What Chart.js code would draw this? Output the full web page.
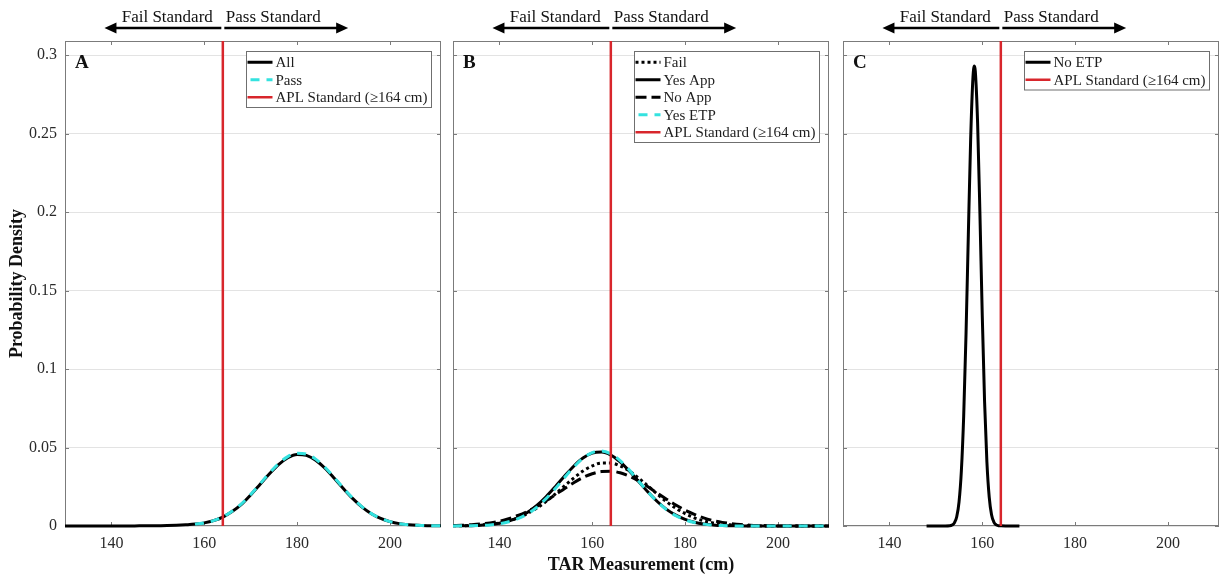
<!DOCTYPE html>
<html>
<head>
<meta charset="utf-8">
<title>TAR Measurement probability densities</title>
<script src="https://cdn.jsdelivr.net/npm/chart.js@4.4.1/dist/chart.umd.min.js"></script>
<style>
  html, body { margin: 0; padding: 0; background: #fff; }
  body { width: 1224px; height: 577px; position: relative; overflow: hidden; }
  canvas { position: absolute; top: 0; }
</style>
</head>
<body>
<canvas id="panelA" width="445" height="577" style="left:0px"></canvas>
<canvas id="panelB" width="384" height="577" style="left:449px"></canvas>
<canvas id="panelC" width="385" height="577" style="left:839px"></canvas>
<script>
// ---- data -----------------------------------------------------------------
// TAR sample positions (cm) shared by panels A and B
const tarGrid = [130, 132, 134, 136, 138, 140, 142, 144, 146, 148, 150, 152, 154, 156, 158, 160,
  162, 164, 166, 168, 170, 172, 174, 176, 178, 180, 182, 184, 186, 188, 190, 192, 194, 196,
  198, 200, 202, 204, 206, 208, 210, 211];

// Panel A densities
const allDensity = [0, 0, 0, 0, 0, 0, 0, 0, 0.0001, 0.0001, 0.0002, 0.0003, 0.0005, 0.0008, 0.0012, 0.0020,
  0.0034, 0.0057, 0.0092, 0.0138, 0.0198, 0.0264, 0.0331, 0.0391, 0.0435, 0.0456, 0.0450, 0.0419, 0.0368, 0.0304,
  0.0237, 0.0174, 0.0120, 0.0078, 0.0048, 0.0028, 0.0015, 0.0008, 0.0004, 0.0002, 0.0001, 0.0001];
const passDensity = [null, null, null, null, null, null, null, null, null, null, null, null, null, null, 0.0012, 0.0020,
  0.0034, 0.0058, 0.0094, 0.0141, 0.0201, 0.0268, 0.0336, 0.0397, 0.0442, 0.0464, 0.0458, 0.0426, 0.0374, 0.0309,
  0.0241, 0.0177, 0.0122, 0.0079, 0.0049, 0.0028, 0.0015, 0.0008, 0.0004, 0.0002, 0.0001, 0.0001];

// Panel B densities
const failDensity = [0.0001, 0.0002, 0.0003, 0.0007, 0.0012, 0.0020, 0.0033, 0.0052, 0.0079, 0.0113, 0.0155, 0.0203,
  0.0255, 0.0305, 0.0350, 0.0383, 0.0401, 0.0401, 0.0383, 0.0350, 0.0305, 0.0255, 0.0203, 0.0155, 0.0113, 0.0079,
  0.0052, 0.0033, 0.0020, 0.0012, 0.0007, 0.0003, 0.0002, 0.0001, 0, 0, 0, 0, 0, 0, 0, 0];
const yesAppDensity = [0.0001, 0.0001, 0.0002, 0.0005, 0.0009, 0.0018, 0.0032, 0.0054, 0.0086, 0.0130, 0.0185, 0.0249,
  0.0317, 0.0381, 0.0433, 0.0464, 0.0471, 0.0452, 0.0409, 0.0350, 0.0283, 0.0216, 0.0156, 0.0106, 0.0069, 0.0042,
  0.0024, 0.0013, 0.0007, 0.0003, 0.0002, 0.0001, 0, 0, 0, 0, 0, 0, 0, 0, 0, 0];
const noAppDensity = [0.0003, 0.0004, 0.0008, 0.0013, 0.0020, 0.0031, 0.0047, 0.0067, 0.0092, 0.0124, 0.0159, 0.0198,
  0.0238, 0.0276, 0.0309, 0.0333, 0.0347, 0.0349, 0.0339, 0.0317, 0.0287, 0.0250, 0.0210, 0.0171, 0.0134, 0.0101,
  0.0074, 0.0052, 0.0035, 0.0023, 0.0015, 0.0009, 0.0005, 0.0003, 0.0002, 0.0001, 0, 0, 0, 0, 0, 0];
const yesEtpDensity = [0, 0.0001, 0.0002, 0.0004, 0.0007, 0.0014, 0.0027, 0.0047, 0.0076, 0.0118, 0.0173, 0.0237,
  0.0308, 0.0375, 0.0432, 0.0468, 0.0478, 0.0460, 0.0417, 0.0356, 0.0286, 0.0217, 0.0155, 0.0104, 0.0066, 0.0040,
  0.0022, 0.0012, 0.0006, 0.0003, 0.0001, 0, 0, 0, 0, 0, 0, 0, 0, 0, 0, 0];

// Panel C: narrow No ETP density on its own sample positions
const noEtpX = [148, 150, 152, 153, 153.5, 154, 154.5, 155, 155.5, 156, 156.5, 157, 157.5, 158, 158.3,
  158.5, 159, 159.5, 160, 160.5, 161, 161.5, 162, 162.5, 163, 163.5, 164, 165, 166, 168];
const noEtpDensity = [0, 0, 0, 0.0001, 0.0006, 0.0020, 0.0059, 0.0154, 0.0352, 0.0701, 0.1220, 0.1855, 0.2464,
  0.2860, 0.2930, 0.2898, 0.2567, 0.1986, 0.1342, 0.0792, 0.0408, 0.0184, 0.0072, 0.0025, 0.0007, 0.0002, 0.0001,
  0, 0, 0];

// Standard threshold and the annotation arrows above each panel
const aplStandard = 164;
const failArrowEnd = 138.5;
const passArrowEnd = 191;
const standardLabels = ['Fail Standard', 'Pass Standard'];

// Axes
const xMin = 130, xMax = 211, yMax = 0.309;
const xTickValues = [140, 160, 180, 200];
const yTickValues = [0, 0.05, 0.1, 0.15, 0.2, 0.25, 0.3];
const yTickLabels = ['0', '0.05', '0.1', '0.15', '0.2', '0.25', '0.3'];
const panelLetters = ['A', 'B', 'C'];

// ---- styling ----------------------------------------------------------------
const SERIF = '"Liberation Serif", "Times New Roman", Times, serif';
const AXIS_GREY = '#7b7b7b';
const GRID_GREY = '#e3e3e3';
const RED = '#d8262c';
const CYAN = '#34e2df';

function pairs(xs, ys) { return xs.map((x, i) => ({ x: x, y: ys[i] })); }

function curve(label, xs, ys, extra) {
  return Object.assign({
    label: label,
    data: pairs(xs, ys),
    borderColor: '#000',
    borderWidth: 3,
    pointRadius: 0,
    fill: false,
    clip: false,
    spanGaps: false,
    cubicInterpolationMode: 'monotone'
  }, extra);
}

function standardLine() {
  return {
    label: 'APL Standard (\u2265164 cm)',
    data: [{ x: aplStandard, y: 0 }, { x: aplStandard, y: yMax }],
    borderColor: RED,
    borderWidth: 2.5,
    pointRadius: 0,
    fill: false,
    clip: false,
    order: 0
  };
}

// Boxed legend in the upper right corner of the plot area
const insetLegend = {
  id: 'insetLegend',
  afterDatasetsDraw(chart) {
    const { ctx, chartArea } = chart;
    const sets = chart.data.datasets;
    const w = 185, rowH = 17.5, h = sets.length * rowH + 3.5;
    const x0 = Math.round(chartArea.right - 10 - w) + 0.5;
    const y0 = Math.round(chartArea.top + 10) + 0.5;
    ctx.save();
    ctx.fillStyle = '#fff';
    ctx.fillRect(x0, y0, w, h);
    ctx.strokeStyle = '#6f6f6f';
    ctx.lineWidth = 1;
    ctx.strokeRect(x0, y0, w, h);
    ctx.font = '15px ' + SERIF;
    ctx.textBaseline = 'middle';
    ctx.textAlign = 'left';
    sets.forEach((ds, i) => {
      const cy = y0 + 2 + rowH * (i + 0.5);
      ctx.beginPath();
      ctx.setLineDash(ds.borderDash || []);
      ctx.lineDashOffset = ds.legendDashOffset || 0;
      ctx.lineCap = 'butt';
      ctx.strokeStyle = ds.borderColor;
      ctx.lineWidth = ds.borderWidth;
      ctx.moveTo(x0 + 1, cy);
      ctx.lineTo(x0 + 26, cy);
      ctx.stroke();
      ctx.setLineDash([]);
      ctx.fillStyle = '#1e1e1e';
      ctx.fillText(ds.label, x0 + 29, cy + 1);
    });
    ctx.restore();
  }
};

// Axes box with inward ticks, panel letter and the fail/pass arrows
const axesFrame = {
  id: 'axesFrame',
  beforeDatasetsDraw(chart) {
    const { ctx, chartArea: a, scales } = chart;
    const x = scales.x, y = scales.y;
    ctx.save();
    ctx.strokeStyle = AXIS_GREY;
    ctx.lineWidth = 1;
    ctx.strokeRect(a.left + 0.5, a.top + 0.5, a.width - 1, a.height - 1);
    ctx.beginPath();
    const t = 4;
    x.ticks.forEach(tk => {
      const px = Math.round(x.getPixelForValue(tk.value)) + 0.5;
      ctx.moveTo(px, a.bottom); ctx.lineTo(px, a.bottom - t);
      ctx.moveTo(px, a.top); ctx.lineTo(px, a.top + t);
    });
    y.ticks.forEach(tk => {
      const py = Math.round(y.getPixelForValue(tk.value)) + 0.5;
      ctx.moveTo(a.left, py); ctx.lineTo(a.left + t, py);
      ctx.moveTo(a.right, py); ctx.lineTo(a.right - t, py);
    });
    ctx.stroke();
    ctx.restore();
  },
  afterDraw(chart, args, opts) {
    const { ctx, chartArea: a, scales } = chart;
    const x = scales.x;
    ctx.save();
    // panel letter
    ctx.font = 'bold 19px ' + SERIF;
    ctx.fillStyle = '#111';
    ctx.textAlign = 'left';
    ctx.textBaseline = 'alphabetic';
    ctx.fillText(opts.letter, a.left + 10, a.top + 27);

    // arrows
    const ay = 28;
    const xc = x.getPixelForValue(aplStandard);
    const xl = x.getPixelForValue(failArrowEnd);
    const xr = x.getPixelForValue(passArrowEnd);
    const head = 12, half = 5.5;
    ctx.strokeStyle = '#000';
    ctx.fillStyle = '#000';
    ctx.lineWidth = 2.5;
    ctx.beginPath();
    ctx.moveTo(xc - 1.5, ay); ctx.lineTo(xl + head - 1, ay);
    ctx.moveTo(xc + 1.5, ay); ctx.lineTo(xr - head + 1, ay);
    ctx.stroke();
    ctx.beginPath();
    ctx.moveTo(xl, ay); ctx.lineTo(xl + head, ay - half); ctx.lineTo(xl + head, ay + half); ctx.closePath();
    ctx.moveTo(xr, ay); ctx.lineTo(xr - head, ay - half); ctx.lineTo(xr - head, ay + half); ctx.closePath();
    ctx.fill();

    ctx.font = '17px ' + SERIF;
    ctx.fillStyle = '#111';
    ctx.textAlign = 'right';
    ctx.fillText(standardLabels[0], xc - 10, 22);
    ctx.textAlign = 'left';
    ctx.fillText(standardLabels[1], xc + 3, 22);
    ctx.restore();
  }
};

function panelOptions(cfg) {
  return {
    responsive: false,
    animation: false,
    devicePixelRatio: 1,
    events: [],
    layout: { padding: { top: 41, right: cfg.rightPad, bottom: 0, left: 0 } },
    plugins: {
      legend: { display: false },
      tooltip: { enabled: false },
      axesFrame: { letter: cfg.letter }
    },
    scales: {
      x: {
        type: 'linear',
        min: xMin,
        max: xMax,
        afterBuildTicks: s => { s.ticks = xTickValues.map(v => ({ value: v })); },
        afterFit: s => { s.height = 51; },
        grid: { display: false, drawTicks: false },
        border: { display: false },
        ticks: {
          padding: 8, color: '#2a2a2a', maxRotation: 0, autoSkip: false,
          font: { family: SERIF, size: 16 },
          callback: v => String(v)
        },
        title: {
          display: !!cfg.xTitle, text: cfg.xTitle || '', color: '#111',
          font: { family: SERIF, size: 18, weight: 'bold' },
          padding: { top: 0, bottom: 1 }
        }
      },
      y: {
        type: 'linear',
        min: 0,
        max: yMax,
        afterBuildTicks: s => { s.ticks = yTickValues.map(v => ({ value: v })); },
        afterFit: s => { s.width = cfg.leftWidth; },
        grid: { color: GRID_GREY, lineWidth: 1, drawTicks: false },
        border: { display: false },
        ticks: {
          display: !!cfg.yLabels, padding: 8, color: '#2a2a2a',
          font: { family: SERIF, size: 16 },
          callback: (v, i) => yTickLabels[i]
        },
        title: {
          display: !!cfg.yTitle, text: cfg.yTitle || '', color: '#111',
          font: { family: SERIF, size: 18, weight: 'bold' },
          padding: { top: 7, bottom: 0 }
        }
      }
    }
  };
}

// ---- Panel A -----------------------------------------------------------------
new Chart(document.getElementById('panelA'), {
  type: 'line',
  data: {
    datasets: [
      curve('All', tarGrid, allDensity, { order: 2 }),
      curve('Pass', tarGrid, passDensity, { borderColor: CYAN, borderDash: [9, 7], legendDashOffset: 13, order: 1 }),
      standardLine()
    ]
  },
  options: panelOptions({ letter: panelLetters[0], rightPad: 4, leftWidth: 65, yLabels: true, yTitle: 'Probability Density' }),
  plugins: [axesFrame, insetLegend]
});

// ---- Panel B -----------------------------------------------------------------
new Chart(document.getElementById('panelB'), {
  type: 'line',
  data: {
    datasets: [
      curve('Fail', tarGrid, failDensity, { borderDash: [3, 3], order: 4 }),
      curve('Yes App', tarGrid, yesAppDensity, { order: 3 }),
      curve('No App', tarGrid, noAppDensity, { borderDash: [11, 5], order: 2 }),
      curve('Yes ETP', tarGrid, yesEtpDensity, { borderColor: CYAN, borderDash: [9, 7], legendDashOffset: 13, order: 1 }),
      standardLine()
    ]
  },
  options: panelOptions({ letter: panelLetters[1], rightPad: 4, leftWidth: 4, yLabels: false, xTitle: 'TAR Measurement (cm)' }),
  plugins: [axesFrame, insetLegend]
});

// ---- Panel C -----------------------------------------------------------------
new Chart(document.getElementById('panelC'), {
  type: 'line',
  data: {
    datasets: [
      curve('No ETP', noEtpX, noEtpDensity, { order: 1 }),
      standardLine()
    ]
  },
  options: panelOptions({ letter: panelLetters[2], rightPad: 5, leftWidth: 4, yLabels: false }),
  plugins: [axesFrame, insetLegend]
});
</script>
</body>
</html>
